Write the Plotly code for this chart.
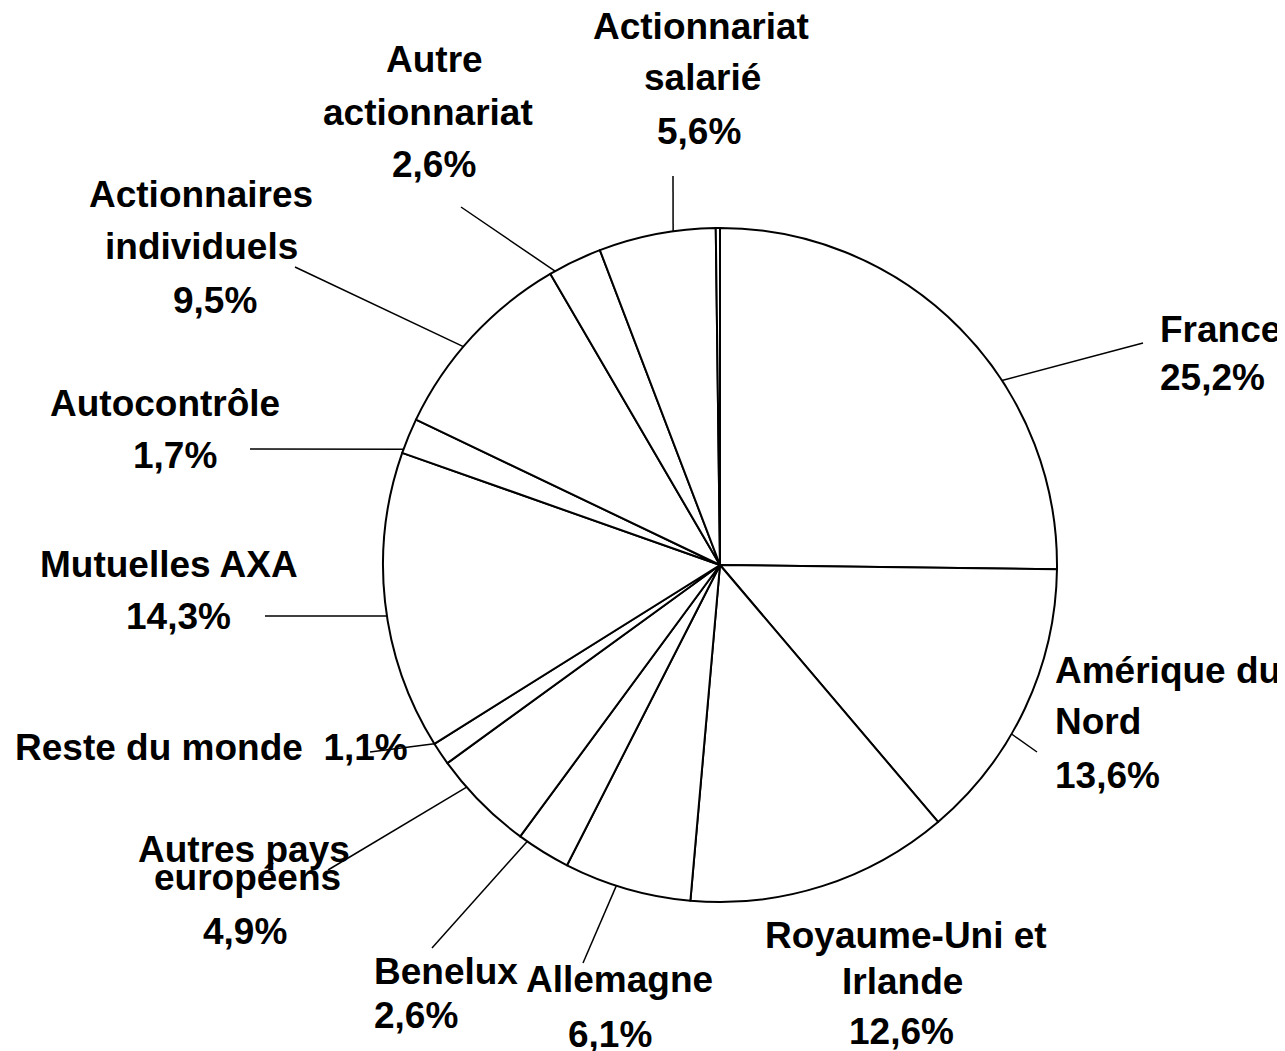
import math
import plotly.graph_objects as go

# ---------------- data ----------------
categories = [
    "France", "Amérique du Nord", "Royaume-Uni et Irlande", "Allemagne",
    "Benelux", "Autres pays européens", "Reste du monde", "Mutuelles AXA",
    "Autocontrôle", "Actionnaires individuels", "Autre actionnariat",
    "Actionnariat salarié", "",
]
values = [25.2, 13.6, 12.6, 6.1, 2.6, 4.9, 1.1, 14.3, 1.7, 9.5, 2.6, 5.6, 0.2]

# ---------------- layout ----------------
PAGE_W, PAGE_H = 1285, 1051
OFF = 8  # default page body margin
W, H = PAGE_W - OFF, PAGE_H - OFF
CX, CY, R = 720, 565, 337
FONT = "Liberation Sans, Arial, sans-serif"
FSIZE = 37

# label lines per category: (text or None for value, x, y, anchor) in page pixels
VAL = None
label_lines = {
    "France": [("France", 1158, 329.5, "left"), (VAL, 1158, 377, "left")],
    "Amérique du Nord": [("Amérique du", 1053, 670, "left"), ("Nord", 1053, 721.5, "left"),
                         (VAL, 1053, 775, "left")],
    "Royaume-Uni et Irlande": [("Royaume-Uni et", 906, 935.5, "center"), ("Irlande", 902, 981, "center"),
                               (VAL, 901.5, 1031.5, "center")],
    "Allemagne": [("Allemagne", 619.5, 979.5, "center"), (VAL, 610, 1034, "center")],
    "Benelux": [("Benelux", 372, 971, "left"), (VAL, 372, 1015, "left")],
    "Autres pays européens": [("Autres pays", 244, 849.5, "center"), ("européens", 247, 877, "center"),
                              (VAL, 245, 931.5, "center")],
    "Reste du monde": [("Reste du monde\u00a0\u00a0{v}", 211, 747.5, "center")],
    "Mutuelles AXA": [("Mutuelles AXA", 169, 564.5, "center"), (VAL, 178.5, 616, "center")],
    "Autocontrôle": [("Autocontrôle", 165, 404, "center"), (VAL, 175, 455, "center")],
    "Actionnaires individuels": [("Actionnaires", 201, 194.5, "center"), ("individuels", 201, 246, "center"),
                                 (VAL, 215, 300, "center")],
    "Autre actionnariat": [("Autre", 434, 59.5, "center"), ("actionnariat", 428, 112.5, "center"),
                           (VAL, 434, 164.5, "center")],
    "Actionnariat salarié": [("Actionnariat", 700.5, 26, "center"), ("salarié", 702, 77.5, "center"),
                             (VAL, 698.5, 131.5, "center")],
}

# leader lines: outer end (page px) and fraction of the slice where the line meets the circle
leaders = {
    "France": (1143, 343, 0.626),
    "Amérique du Nord": (1037, 752, 0.600),
    "Allemagne": (583, 963, 0.586),
    "Benelux": (432, 948, 0.844),
    "Autres pays européens": (328, 870, 0.702),
    "Reste du monde": (370, 752, 1.0),
    "Mutuelles AXA": (265, 616, 0.453),
    "Autocontrôle": (250, 449, 0.108),
    "Actionnaires individuels": (295, 267, 0.434),
    "Autre actionnariat": (461, 207, 0.10),
    "Actionnariat salarié": (673, 176, 0.639),
}


def px(x):
    return (x - OFF) / W


def py(y):
    return 1 - (y - OFF) / H


def fmt(v):
    return f"{v:.1f}".replace(".", ",") + "%"


fig = go.Figure(
    go.Pie(
        labels=categories,
        values=values,
        sort=False,
        direction="clockwise",
        rotation=0,
        textinfo="none",
        hoverinfo="skip",
        marker=dict(colors=["white"] * len(values), line=dict(color="black", width=2)),
        domain=dict(x=[px(CX - R), px(CX + R)], y=[py(CY + R), py(CY - R)]),
        showlegend=False,
    )
)

total = sum(values)
cum = 0.0
starts = {}
for c, v in zip(categories, values):
    starts[c] = (cum / total * 360.0, v / total * 360.0)
    cum += v

annotations = []
for c, v in zip(categories, values):
    for text, x, y, anchor in label_lines.get(c, []):
        t = fmt(v) if text is None else text.replace("{v}", fmt(v))
        annotations.append(dict(
            text=t, x=px(x), y=py(y), xref="paper", yref="paper",
            xanchor=anchor, yanchor="middle", showarrow=False,
            font=dict(family=FONT, size=FSIZE, color="black", weight="bold"),
        ))

shapes = []
for c, (ox, oy, frac) in leaders.items():
    a0, span = starts[c]
    ang = math.radians(a0 + frac * span)
    ix = CX + R * math.sin(ang)
    iy = CY - R * math.cos(ang)
    shapes.append(dict(
        type="line", xref="paper", yref="paper",
        x0=px(ox), y0=py(oy), x1=px(ix), y1=py(iy),
        line=dict(color="black", width=1.5),
    ))

fig.update_layout(
    width=W, height=H,
    margin=dict(l=0, r=0, t=0, b=0),
    paper_bgcolor="white", plot_bgcolor="white",
    annotations=annotations, shapes=shapes,
    showlegend=False,
)

fig.write_html("out.html")
